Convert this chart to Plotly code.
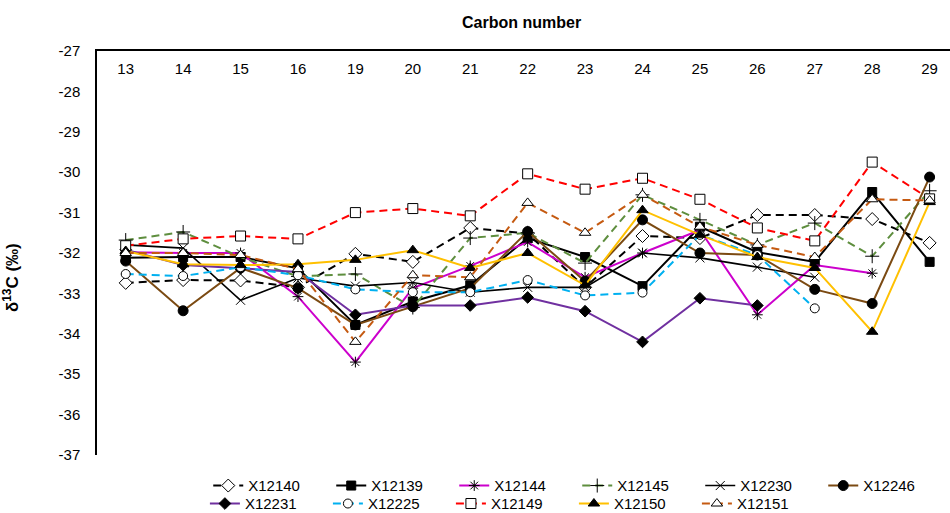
import plotly.graph_objects as go

carbon = ["13", "14", "15", "16", "19", "20", "21", "22", "23", "24", "25", "26", "27", "28", "29"]
y_ticks = [-37, -36, -35, -34, -33, -32, -31, -30, -29, -28, -27]
y_tick_labels = ["-37", "-36", "-35", "-34", "-33", "-32", "-31", "-30", "-29", "-28", "-27"]

X12140 = [-32.74, -32.67, -32.68, -32.85, -32.02, -32.22, -31.38, -31.52, -32.85, -31.58, -31.63, -31.06, -31.06, -31.16, -31.75]
X12139 = [-32.12, -32.10, -32.10, -32.38, -33.78, -33.20, -32.80, -31.63, -32.10, -32.82, -31.35, -31.98, -32.22, -30.49, -32.22]
X12144 = [-31.98, -32.00, -32.00, -33.08, -34.70, -32.87, -32.32, -31.73, -32.60, -32.00, -31.43, -33.53, -32.30, -32.50, None]
X12145 = [-31.68, -31.48, -32.10, -32.58, -32.52, -33.35, -31.63, -31.50, -32.25, -30.56, -31.18, -31.80, -31.26, -32.08, -30.46]
X12230 = [-31.80, -31.88, -33.17, -32.62, -32.82, -32.73, -32.97, -32.85, -32.85, -32.00, -32.12, -32.35, -32.60, None, None]
X12246 = [-32.20, -33.43, -32.37, -32.87, -33.78, -33.33, -32.87, -31.47, -32.70, -31.18, -32.00, -32.05, -32.90, -33.25, -30.12]
X12231 = [-31.92, -32.30, -32.38, -32.47, -33.53, -33.30, -33.30, -33.10, -33.44, -34.20, -33.12, -33.30, None, None, None]
X12225 = [-32.52, -32.57, -32.35, -32.55, -32.90, -32.97, -32.97, -32.67, -33.05, -32.98, -31.55, -32.05, -33.37, None, None]
X12149 = [-31.82, -31.65, -31.58, -31.65, -31.00, -30.90, -31.08, -30.04, -30.42, -30.15, -30.67, -31.38, -31.70, -29.75, -30.66]
X12150 = [-31.95, -32.28, -32.30, -32.28, -32.17, -31.93, -32.37, -32.00, -32.80, -30.94, -31.55, -32.10, -32.37, -33.95, -30.74]
X12151 = [-32.00, -32.00, -32.05, -32.40, -34.20, -32.55, -32.60, -30.76, -31.50, -30.56, -31.35, -31.80, -32.10, -30.67, -30.70]

series_row1 = [
    ("X12140", X12140, "black", "8px,5px", "diamond", "white", 10),
    ("X12139", X12139, "black", "solid", "square", "black", 9),
    ("X12144", X12144, "#CC00CC", "solid", "asterisk-open", "black", 9),
    ("X12145", X12145, "#5E8E3E", "8px,5px", "cross-thin-open", "black", 10),
    ("X12230", X12230, "black", "solid", "x-thin-open", "black", 9),
    ("X12246", X12246, "#7B4A12", "solid", "circle", "black", 10),
]
series_row2 = [
    ("X12231", X12231, "#7030A0", "solid", "diamond", "black", 9),
    ("X12225", X12225, "#00B0F0", "8px,5px", "circle", "white", 9),
    ("X12149", X12149, "#FF0000", "8px,5px", "square", "white", 10),
    ("X12150", X12150, "#FFC000", "solid", "triangle-up", "black", 10),
    ("X12151", X12151, "#C55A11", "8px,5px", "triangle-up", "white", 10),
]

fig = go.Figure()

def add(series, legend):
    for name, vals, col, dash, sym, fill, size in series:
        fig.add_trace(go.Scatter(
            x=carbon, y=vals, name=name, mode="lines+markers", legend=legend,
            connectgaps=False,
            line=dict(color=col, width=1.6 if name == "X12230" else 2, dash=dash),
            marker=dict(symbol=sym, size=size, color=fill,
                        line=dict(color="black", width=1)),
        ))

add(series_row1, "legend")
add(series_row2, "legend2")

# empty carrier trace so the category label axis (x2) is drawn
fig.add_trace(go.Scatter(x=carbon, y=[None] * len(carbon), xaxis="x2",
                         showlegend=False, hoverinfo="skip", mode="lines"))

font = "Liberation Sans, Arial, sans-serif"
xr = [-0.5, 14.355]
fig.update_layout(
    width=950, height=513,
    margin=dict(l=97, r=0, t=51, b=58, autoexpand=False),
    paper_bgcolor="white", plot_bgcolor="white",
    font=dict(family=font, size=15, color="black"),
    xaxis=dict(type="category", side="top", range=xr, categoryorder="array",
               categoryarray=carbon,
               showline=True, linecolor="black", linewidth=1.5,
               showgrid=False, ticks="", showticklabels=False),
    xaxis2=dict(type="category", overlaying="x", anchor="free",
                side="bottom", position=0.982, range=xr, categoryorder="array",
                categoryarray=carbon, showline=False, showgrid=False, ticks="",
                zeroline=False, showticklabels=True, tickfont=dict(size=15)),
    yaxis=dict(range=[-37, -27], tickvals=y_ticks, ticktext=y_tick_labels,
               showline=True, linecolor="black",
               linewidth=1.5, showgrid=False, zeroline=False, ticks="",
               ticklabelstandoff=12, tickfont=dict(size=15)),
    legend=dict(orientation="h", x=0.563, xanchor="center",
                yref="container", y=0.053, yanchor="middle",
                entrywidth=78, entrywidthmode="pixels", font=dict(size=15),
                bgcolor="rgba(0,0,0,0)", tracegroupgap=0, itemwidth=30),
    legend2=dict(orientation="h", x=0.487, xanchor="center",
                 yref="container", y=0.018, yanchor="middle",
                 entrywidth=78, entrywidthmode="pixels", font=dict(size=15),
                 bgcolor="rgba(0,0,0,0)", tracegroupgap=0, itemwidth=30),
    annotations=[
        dict(text="<b>Carbon number</b>", xref="paper", yref="paper",
             x=0.498, xanchor="center", y=1.0, yanchor="middle", yshift=29,
             showarrow=False, font=dict(size=16)),
        dict(text="<b>δ<sup>13</sup>C (‰)</b>", xref="paper", yref="paper",
             x=-0.101, xanchor="center", y=0.44, yanchor="middle",
             textangle=-90, showarrow=False, font=dict(size=17)),
    ],
)

fig.write_html("out.html")
